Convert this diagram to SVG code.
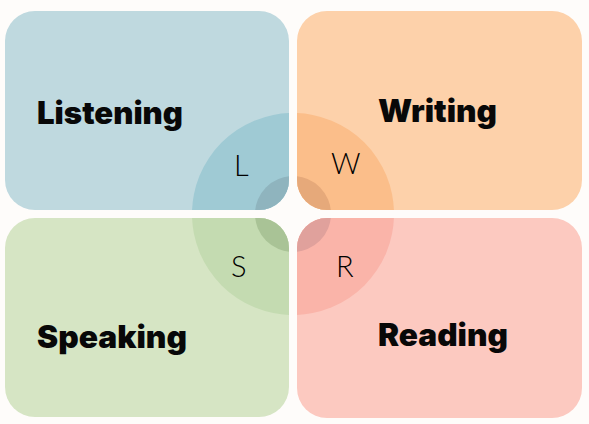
<svg xmlns="http://www.w3.org/2000/svg" width="589" height="424" viewBox="0 0 589 424">
<style>
.big{font-family:Inter,"Open Sans","Liberation Sans",sans-serif;font-weight:900;font-size:31px;fill:#080808}
.let{font-family:Lato,"Noto Sans","Liberation Sans",sans-serif;font-weight:300;font-size:29px;fill:#000}
</style>
<defs>
<clipPath id="cTL"><rect x="5" y="11" width="284" height="199" rx="30"/></clipPath>
<clipPath id="cTR"><rect x="297" y="11" width="285" height="199" rx="30"/></clipPath>
<clipPath id="cBL"><rect x="5" y="218" width="284" height="199" rx="30"/></clipPath>
<clipPath id="cBR"><rect x="297" y="218" width="285" height="200" rx="30"/></clipPath>
</defs>
<rect width="589" height="424" fill="#fefcfa"/>
<g id="listening">
<rect x="5" y="11" width="284" height="199" rx="30" fill="#bfd9df"/>
<g clip-path="url(#cTL)">
<circle cx="293" cy="214" r="101" fill="#9fcad4"/>
<circle cx="293" cy="214" r="38" fill="#8fb4be"/>
</g>
<text class="big" x="37" y="124" textLength="146" lengthAdjust="spacingAndGlyphs">Listening</text>
<text class="let" x="234" y="176">L</text>
</g>
<g id="writing">
<rect x="297" y="11" width="285" height="199" rx="30" fill="#fdd1aa"/>
<g clip-path="url(#cTR)">
<circle cx="293" cy="214" r="101" fill="#fbbe8a"/>
<circle cx="293" cy="214" r="38" fill="#e6a97a"/>
</g>
<text class="big" x="378" y="122" textLength="119" lengthAdjust="spacingAndGlyphs">Writing</text>
<text class="let" x="331" y="174">W</text>
</g>
<g id="speaking">
<rect x="5" y="218" width="284" height="199" rx="30" fill="#d6e5c4"/>
<g clip-path="url(#cBL)">
<circle cx="293" cy="214" r="101" fill="#c4dbb1"/>
<circle cx="293" cy="214" r="38" fill="#a9c396"/>
</g>
<text class="big" x="37" y="348" textLength="150" lengthAdjust="spacingAndGlyphs">Speaking</text>
<text class="let" x="231" y="277">S</text>
</g>
<g id="reading">
<rect x="297" y="218" width="285" height="200" rx="30" fill="#fcc9c0"/>
<g clip-path="url(#cBR)">
<circle cx="293" cy="214" r="101" fill="#fab4a9"/>
<circle cx="293" cy="214" r="38" fill="#e0a19c"/>
</g>
<text class="big" x="378" y="346" textLength="130" lengthAdjust="spacingAndGlyphs">Reading</text>
<text class="let" x="336" y="277">R</text>
</g>
<g id="connectors"/>
</svg>
